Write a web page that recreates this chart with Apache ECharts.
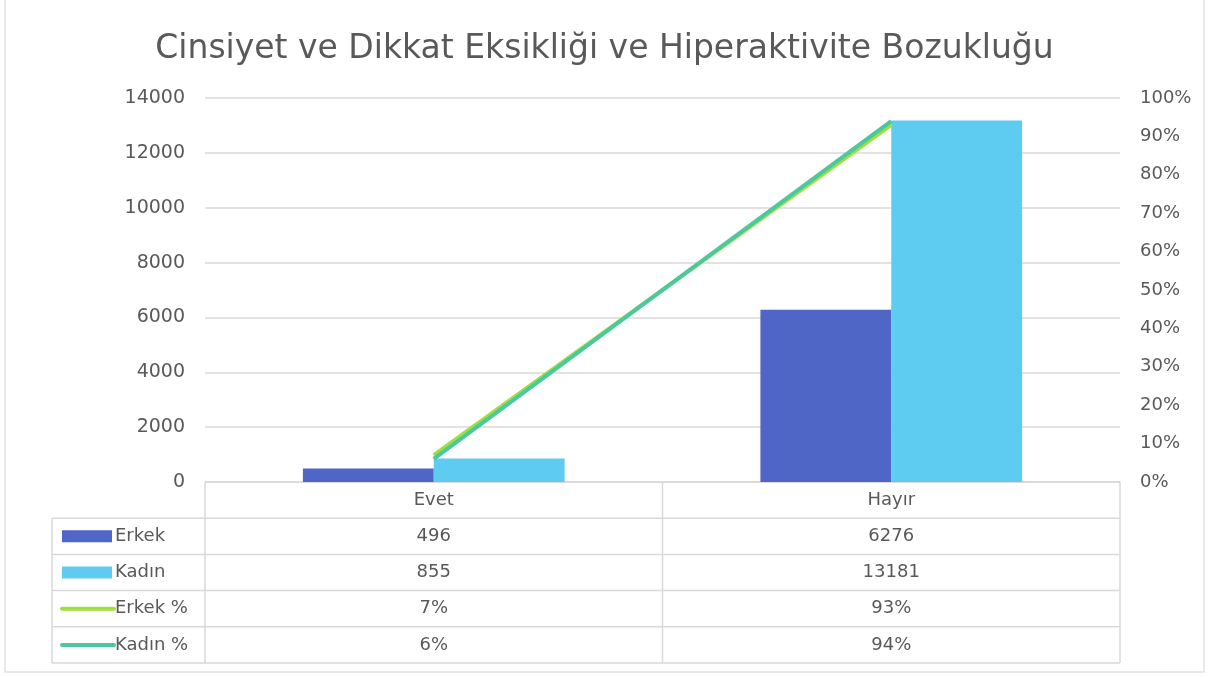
<!DOCTYPE html>
<html>
<head>
<meta charset="utf-8">
<script src="https://cdn.jsdelivr.net/npm/echarts@6/dist/echarts.min.js"></script>
<style>
  html, body { margin: 0; padding: 0; background: #fff; }
  #main { width: 1209px; height: 677px; }
</style>
</head>
<body>
<div id="main"></div>
<script>
// veriler
var categories = ["Evet", "Hayır"];
var erkek = [496, 6276];
var kadin = [855, 13181];
var erkekPct = [0.07, 0.93];
var kadinPct = [0.06, 0.94];
var leftTicks = { min: 0, max: 14000, interval: 2000 };
var rightTicks = { min: 0, max: 1, interval: 0.1 };

var colors = { erkek: "#4f66c7", kadin: "#5ecbf1", erkekPct: "#9ee03c", kadinPct: "#4cc89e" };
var font = "DejaVu Sans";
var textColor = "#595959";
var lineColor = "#d9d9d9";

// grid kenarlari
var G = { left: 205, right: 1120, top: 98, bottom: 482 };
var labelLeft = 52;
var rowH = 36.2;

var myChart = echarts.init(document.getElementById("main"));

function pct(v) { return Math.round(v * 100) + "%"; }

// tablo (veri tablosu) grafik elemanlari
function buildTable() {
  var els = [];
  var colW = (G.right - G.left) / categories.length;
  var rows = [
    { name: "Erkek", vals: erkek.map(String), type: "bar", color: colors.erkek },
    { name: "Kadın", vals: kadin.map(String), type: "bar", color: colors.kadin },
    { name: "Erkek %", vals: erkekPct.map(pct), type: "line", color: colors.erkekPct },
    { name: "Kadın %", vals: kadinPct.map(pct), type: "line", color: colors.kadinPct }
  ];
  var bottom = G.bottom + rowH * (rows.length + 1);
  var ls = { stroke: lineColor, lineWidth: 1.5 };
  // yatay cizgiler
  els.push({ type: "line", shape: { x1: G.left, y1: G.bottom, x2: G.right, y2: G.bottom }, style: ls });
  for (var r = 1; r <= rows.length + 1; r++) {
    var y = G.bottom + rowH * r;
    els.push({ type: "line", shape: { x1: labelLeft, y1: y, x2: G.right, y2: y }, style: ls });
  }
  // dikey cizgiler
  els.push({ type: "line", shape: { x1: labelLeft, y1: G.bottom + rowH, x2: labelLeft, y2: bottom }, style: ls });
  for (var c = 0; c <= categories.length; c++) {
    var x = G.left + colW * c;
    els.push({ type: "line", shape: { x1: x, y1: G.bottom, x2: x, y2: bottom }, style: ls });
  }
  var ts = { fill: textColor, fontFamily: font, fontSize: 18, align: "center", verticalAlign: "middle" };
  categories.forEach(function (cat, i) {
    els.push({ type: "text", x: G.left + colW * (i + 0.5), y: G.bottom + rowH * 0.5,
      style: Object.assign({ text: cat }, ts) });
  });
  rows.forEach(function (row, r) {
    var cy = G.bottom + rowH * (r + 1.5);
    if (row.type === "bar") {
      els.push({ type: "rect", shape: { x: 62, y: cy - 6, width: 50, height: 12 }, style: { fill: row.color } });
    } else {
      els.push({ type: "line", shape: { x1: 62, y1: cy, x2: 114, y2: cy },
        style: { stroke: row.color, lineWidth: 4, lineCap: "round" } });
    }
    els.push({ type: "text", x: 115, y: cy,
      style: { text: row.name, fill: textColor, fontFamily: font, fontSize: 18, align: "left", verticalAlign: "middle" } });
    row.vals.forEach(function (v, i) {
      els.push({ type: "text", x: G.left + colW * (i + 0.5), y: cy, style: Object.assign({ text: v }, ts) });
    });
  });
  // dis cerceve
  els.push({ type: "rect", shape: { x: 5, y: -5, width: 1199, height: 677 },
    style: { fill: "none", stroke: "#e3e3e3", lineWidth: 1.5 } });
  return els;
}

var option = {
  backgroundColor: "#fff",
  animation: false,
  title: {
    text: "Cinsiyet ve Dikkat Eksikliği ve Hiperaktivite Bozukluğu",
    left: "center",
    top: 28,
    textStyle: { color: textColor, fontFamily: font, fontSize: 33, fontWeight: "normal" }
  },
  grid: { left: G.left, right: 1209 - G.right, top: G.top, bottom: 677 - G.bottom, containLabel: false },
  xAxis: {
    type: "category",
    data: categories,
    axisLine: { show: false },
    axisTick: { show: false },
    axisLabel: { show: false }
  },
  yAxis: [
    {
      type: "value",
      min: leftTicks.min, max: leftTicks.max, interval: leftTicks.interval,
      axisLine: { show: false }, axisTick: { show: false },
      axisLabel: { color: textColor, fontFamily: font, fontSize: 19, margin: 20, formatter: function (v) { return String(v); } },
      splitLine: { lineStyle: { color: lineColor, width: 1.5 } }
    },
    {
      type: "value",
      min: rightTicks.min, max: rightTicks.max, interval: rightTicks.interval,
      axisLine: { show: false }, axisTick: { show: false },
      axisLabel: { color: textColor, fontFamily: font, fontSize: 18, margin: 20, formatter: pct },
      splitLine: { show: false }
    }
  ],
  series: [
    { name: "Erkek", type: "bar", data: erkek, barWidth: "28.6%", barGap: "0%", itemStyle: { color: colors.erkek } },
    { name: "Kadın", type: "bar", data: kadin, barWidth: "28.6%", barGap: "0%", itemStyle: { color: colors.kadin } },
    { name: "Erkek %", type: "line", yAxisIndex: 1, data: erkekPct, showSymbol: false,
      lineStyle: { color: colors.erkekPct, width: 4 }, itemStyle: { color: colors.erkekPct } },
    { name: "Kadın %", type: "line", yAxisIndex: 1, data: kadinPct, showSymbol: false,
      lineStyle: { color: colors.kadinPct, width: 4 }, itemStyle: { color: colors.kadinPct } }
  ],
  graphic: buildTable()
};

myChart.setOption(option);
</script>
</body>
</html>
